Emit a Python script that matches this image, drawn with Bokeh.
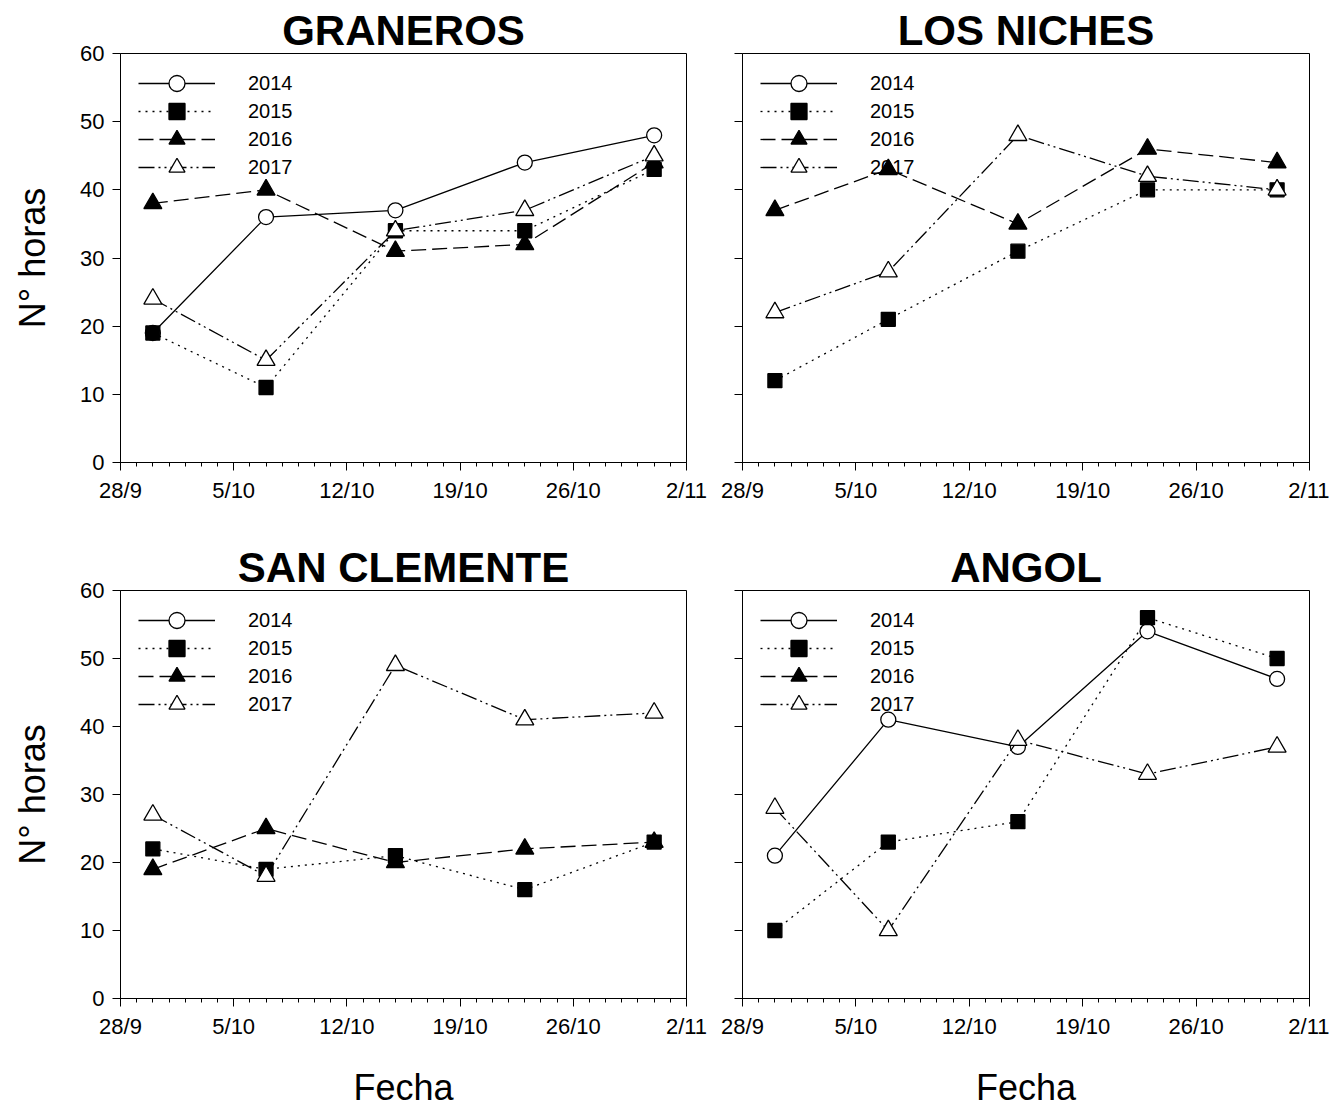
import datetime as dt
from bokeh.plotting import figure
from bokeh.models import Range1d, FixedTicker, Legend, LegendItem, ColumnDataSource
from bokeh.layouts import column, row
from bokeh.embed import file_html
from bokeh.resources import INLINE

# ---------------- data ----------------
sites = ["GRANEROS", "LOS NICHES", "SAN CLEMENTE", "ANGOL"]
years = ["2014", "2015", "2016", "2017"]
sample_dates = ["30/9", "7/10", "15/10", "23/10", "31/10"]
tick_labels = ["28/9", "5/10", "12/10", "19/10", "26/10", "2/11"]
y_ticks = [0, 10, 20, 30, 40, 50, 60]

graneros_2014 = [19, 36, 37, 44, 48]
graneros_2015 = [19, 11, 34, 34, 43]
graneros_2016 = [38, 40, 31, 32, 44]
graneros_2017 = [24, 15, 34, 37, 45]

los_niches_2014 = []
los_niches_2015 = [12, 21, 31, 40, 40]
los_niches_2016 = [37, 43, 35, 46, 44]
los_niches_2017 = [22, 28, 48, 42, 40]

san_clemente_2014 = []
san_clemente_2015 = [22, 19, 21, 16, 23]
san_clemente_2016 = [19, 25, 20, 22, 23]
san_clemente_2017 = [27, 18, 49, 41, 42]

angol_2014 = [21, 41, 37, 54, 47]
angol_2015 = [10, 23, 26, 56, 50]
angol_2016 = []
angol_2017 = [28, 10, 38, 33, 37]

site_data = {
    "GRANEROS": [graneros_2014, graneros_2015, graneros_2016, graneros_2017],
    "LOS NICHES": [los_niches_2014, los_niches_2015, los_niches_2016, los_niches_2017],
    "SAN CLEMENTE": [san_clemente_2014, san_clemente_2015, san_clemente_2016, san_clemente_2017],
    "ANGOL": [angol_2014, angol_2015, angol_2016, angol_2017],
}

# ---------------- styles ----------------
FONT = "Liberation Sans"
year_styles = {
    "2014": dict(dash="solid", marker="circle", fill="white", size=15),
    "2015": dict(dash="2 5", marker="square", fill="black", size=14),
    "2016": dict(dash="15 6", marker="triangle", fill="black", size=18),
    "2017": dict(dash="16 4 2 4 2 4", marker="triangle", fill="white", size=18),
}


def day_offset(label, origin=tick_labels[0]):
    d, m = map(int, label.split("/"))
    d0, m0 = map(int, origin.split("/"))
    return (dt.date(2017, m, d) - dt.date(2017, m0, d0)).days


x_days = [day_offset(s) for s in sample_dates]
major_ticks = [day_offset(s) for s in tick_labels]
x_end = major_ticks[-1]
minor_ticks = list(range(0, x_end + 1))

LEG_GLYPH_H = 40


def make_fig(site, left, top):
    fw = 566 if left else 567
    fh = 409 if top else 408
    p = figure(
        frame_width=fw, frame_height=fh,
        x_range=Range1d(0, x_end), y_range=Range1d(0, 60),
        output_backend="svg", toolbar_location=None,
        min_border_left=120 if left else 28,
        min_border_right=28 if left else 20,
        min_border_top=53 if top else 78,
        min_border_bottom=50 if top else 107,
        background_fill_color="white", border_fill_color="white",
    )
    p.grid.visible = False
    p.outline_line_color = "black"
    p.outline_line_width = 1

    p.title.text = site
    p.title.align = "center"
    p.title.text_font = FONT
    p.title.text_font_size = "42px"
    p.title.text_font_style = "bold"
    p.title.text_color = "black"
    p.title.standoff = 0

    xa = p.xaxis[0]
    xa.ticker = FixedTicker(ticks=major_ticks, minor_ticks=minor_ticks)
    xa.major_label_overrides = {t: l for t, l in zip(major_ticks, tick_labels)}
    xa.major_tick_in = 0
    xa.major_tick_out = 8
    xa.minor_tick_in = 0
    xa.minor_tick_out = 4
    xa.major_label_standoff = 7
    xa.major_label_text_font = FONT
    xa.major_label_text_font_size = "22px"
    xa.major_label_text_color = "black"
    if not top:
        xa.axis_label = "Fecha"
        xa.axis_label_text_font = FONT
        xa.axis_label_text_font_size = "36px"
        xa.axis_label_text_font_style = "normal"
        xa.axis_label_text_color = "black"
        xa.axis_label_standoff = 25

    ya = p.yaxis[0]
    ya.ticker = FixedTicker(ticks=y_ticks, minor_ticks=[])
    ya.major_tick_in = 0
    ya.major_tick_out = 8
    ya.major_label_standoff = 8
    ya.major_label_text_font = FONT
    ya.major_label_text_font_size = "22px"
    ya.major_label_text_color = "black"
    if left:
        ya.axis_label = "N° horas"
        ya.axis_label_text_font = FONT
        ya.axis_label_text_font_size = "36px"
        ya.axis_label_text_font_style = "normal"
        ya.axis_label_text_color = "black"
        ya.axis_label_standoff = 24
    else:
        ya.major_label_overrides = {t: "" for t in y_ticks}

    for ax in (xa, ya):
        ax.axis_line_color = "black"
        ax.major_tick_line_color = "black"
        ax.minor_tick_line_color = "black"

    for i, (year, vals) in enumerate(zip(years, site_data[site])):
        st = year_styles[year]
        if vals:
            xs, ys = x_days[:len(vals)], vals
        else:
            # series not measured at this site: placeholders that draw nothing,
            # so that the legend still shows its symbol
            xs, ys = x_days, [float("nan")] * len(x_days)
        src = ColumnDataSource(dict(x=xs, y=ys))
        ln = p.line("x", "y", source=src, line_color="black", line_width=1.3,
                    line_dash=st["dash"])
        mk = p.scatter("x", "y", source=src, marker=st["marker"], size=st["size"],
                       fill_color=st["fill"], line_color="black", line_width=1.3)
        legend = Legend(
            items=[LegendItem(label=year, renderers=[ln, mk])],
            location=(18, fh - (30 - LEG_GLYPH_H // 2) - LEG_GLYPH_H - i * 28),
            border_line_color=None, background_fill_alpha=0,
            label_text_font=FONT, label_text_font_size="20px", label_text_color="black",
            glyph_width=77, glyph_height=LEG_GLYPH_H, label_standoff=33,
            margin=0, padding=0,
        )
        p.add_layout(legend)
    return p


f1 = make_fig("GRANEROS", True, True)
f2 = make_fig("LOS NICHES", False, True)
f3 = make_fig("SAN CLEMENTE", True, False)
f4 = make_fig("ANGOL", False, False)

layout = column(row(f1, f2), row(f3, f4))
open("out.html", "w").write(file_html(layout, INLINE))
